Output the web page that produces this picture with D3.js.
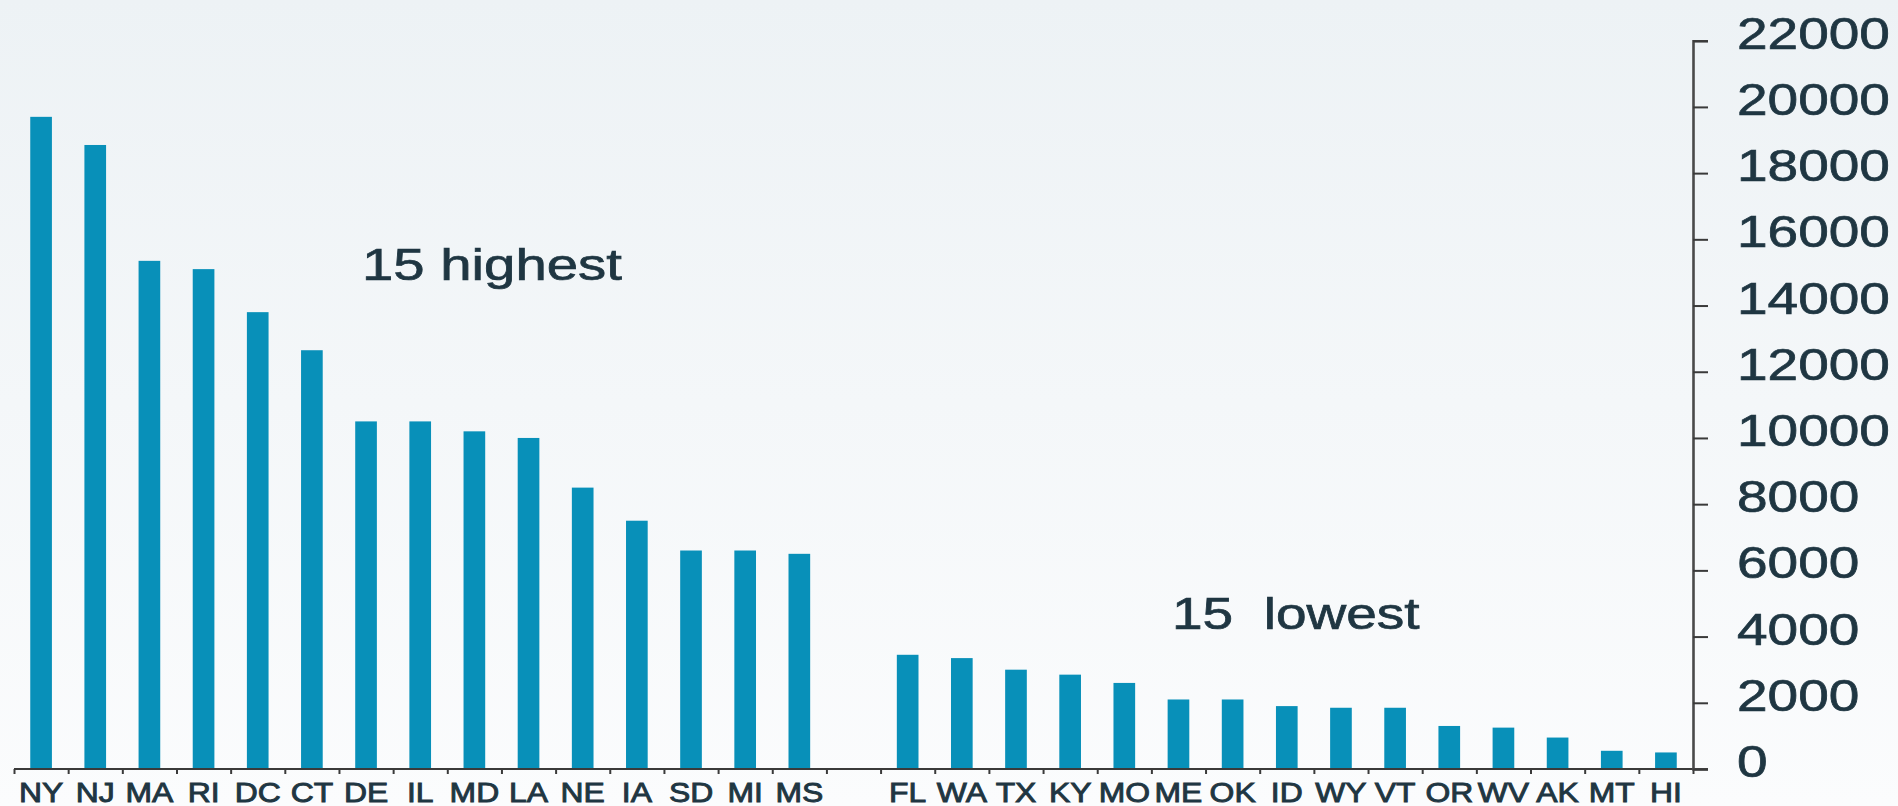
<!DOCTYPE html>
<html>
<head>
<meta charset="utf-8">
<script src="https://cdn.jsdelivr.net/npm/d3@7"></script>
<style>
  html, body { margin: 0; padding: 0; background: #fff; }
  svg { display: block; }
  text { font-family: "Liberation Sans", Arial, sans-serif; fill: #1f3642; stroke: #1f3642; }
</style>
</head>
<body>
<div id="chart"></div>
<script>
// ---- data ----
const highStates = ["NY","NJ","MA","RI","DC","CT","DE","IL","MD","LA","NE","IA","SD","MI","MS"];
const highValues = [19700,18850,15350,15100,13800,12650,10500,10500,10200,10000,8500,7500,6600,6600,6500];
const lowStates  = ["FL","WA","TX","KY","MO","ME","OK","ID","WY","VT","OR","WV","AK","MT","HI"];
const lowValues  = [3450,3350,3000,2850,2600,2100,2100,1900,1850,1850,1300,1250,950,550,500];
const yTicks = [0,2000,4000,6000,8000,10000,12000,14000,16000,18000,20000,22000];
const groupLabels = ["15 highest", "15  lowest"];

const W = 1898, H = 806;
const GAP = "__gap__";
const domain = [...highStates, GAP, ...lowStates];
const data = [
  ...highStates.map((s, i) => ({ s, v: highValues[i] })),
  ...lowStates.map((s, i) => ({ s, v: lowValues[i] }))
];

const x0 = 14, x1 = 1693, yZero = 769, yTop = 40.7;
const x = d3.scaleBand().domain(domain).range([x0, x1]).paddingInner(0.6).paddingOuter(0.3);
const y = d3.scaleLinear().domain([0, 22000]).range([yZero, yTop]);

const svg = d3.select("#chart").append("svg").attr("width", W).attr("height", H);

const defs = svg.append("defs");
const grad = defs.append("linearGradient").attr("id", "bg").attr("x1", 0).attr("y1", 0).attr("x2", 0).attr("y2", 1);
grad.append("stop").attr("offset", "0%").attr("stop-color", "#edf2f5");
grad.append("stop").attr("offset", "100%").attr("stop-color", "#fbfcfd");
svg.append("rect").attr("width", W).attr("height", H).attr("fill", "url(#bg)");

// bars
svg.append("g").selectAll("rect").data(data).join("rect")
  .attr("x", d => x(d.s))
  .attr("width", x.bandwidth())
  .attr("y", d => y(d.v))
  .attr("height", d => yZero - y(d.v))
  .attr("fill", "#0890b9");

// x axis: baseline + boundary ticks
const step = x.step();
const xb = d3.scaleLinear().domain([0, domain.length]).range([x0, x0 + step * domain.length]);
const xAxisG = svg.append("g").attr("transform", `translate(0,${yZero})`);
xAxisG.call(d3.axisBottom(xb).tickValues(d3.range(0, domain.length + 1)).tickSize(5).tickSizeOuter(0).tickFormat(""));
xAxisG.select(".domain").remove();
xAxisG.selectAll(".tick line").attr("stroke", "#3a3a3a").attr("stroke-width", 2);
svg.append("line").attr("x1", x0).attr("x2", x1 + 15).attr("y1", yZero).attr("y2", yZero)
  .attr("stroke", "#3a3a3a").attr("stroke-width", 2.2);

// x labels
svg.append("g").selectAll("text").data(domain.filter(d => d !== GAP)).join("text")
  .attr("transform", d => `translate(${x(d) + x.bandwidth() / 2},802) scale(1.18,1)`)
  .attr("text-anchor", "middle")
  .attr("font-size", 27)
  .attr("stroke-width", 0.9)
  .text(d => d);

// y axis on the right
const yAxisG = svg.append("g").attr("transform", `translate(${x1},0)`);
yAxisG.call(d3.axisRight(y).tickValues(yTicks).tickSize(15).tickSizeOuter(15).tickFormat(""));
yAxisG.select(".domain").attr("stroke", "#4a4a4a").attr("stroke-width", 2.6);
yAxisG.selectAll(".tick line").attr("stroke", "#3a3a3a").attr("stroke-width", 2);

svg.append("g").selectAll("text").data(yTicks).join("text")
  .attr("transform", d => `translate(1737,${y(d) + 8}) scale(1.25,1)`)
  .attr("font-size", 44)
  .attr("stroke-width", 0.7)
  .text(d => d);

// group labels
svg.append("text").attr("transform", "translate(362,280) scale(1.28,1)")
  .attr("font-size", 44).attr("stroke-width", 0.7).text(groupLabels[0]);
svg.append("text").attr("transform", "translate(1172,629) scale(1.25,1)")
  .attr("font-size", 44).attr("stroke-width", 0.7).style("white-space", "pre").text(groupLabels[1]);
</script>
</body>
</html>
